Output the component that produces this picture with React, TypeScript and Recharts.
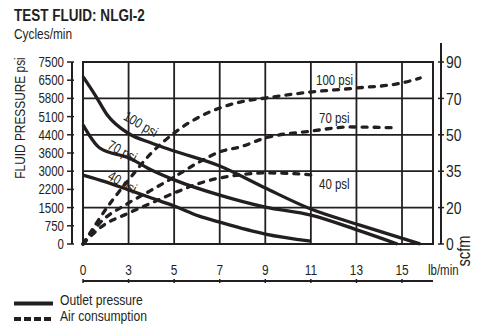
import React from 'react';
import {
    CartesianGrid,
    Line,
    LineChart,
    ReferenceArea,
    XAxis,
    YAxis,
} from 'recharts';

// axis tick labels (the axes are drawn evenly spaced, the values are not)
const LB_TICKS = [0, 3, 5, 7, 9, 11, 13, 15];
const CYCLE_TICKS = [0, 40, 80, 110, 150, 200, 230, 270];
const PSI_TICKS = [0, 750, 1500, 2200, 3000, 3600, 4400, 5100, 5800, 6500, 7500];
const SCFM_TICKS = [0, 20, 35, 50, 70, 90];

// outlet pressure, [lb/min, psi]
const outlet100 = [[0, 6700], [0.8, 5930], [1.6, 5160], [3, 4450], [4, 4040], [5, 3690], [7, 3170], [9, 2260], [11, 1440], [13.15, 780], [15.8, 0]];
const outlet70 = [[0, 4780], [1.1, 3820], [3, 3440], [4, 3040], [5, 2620], [7, 1980], [9, 1520], [11, 1190], [13.15, 540], [14.8, 0]];
const outlet40 = [[0, 2830], [1.5, 2530], [3, 2180], [4, 1870], [5, 1560], [6.1, 1150], [7, 900], [9, 410], [11, 120]];

// air consumption, [lb/min, scfm]
const air100 = [[0, 0], [1.8, 21.9], [3, 31.4], [4, 42.5], [5, 51], [6.1, 59.8], [7, 64.7], [7.9, 68], [9, 70.2], [11, 73.5], [13, 75.7], [15, 78.5], [15.8, 81.2]];
const air70 = [[0, 0], [1.1, 11.5], [3, 21.9], [4, 27.2], [5, 32.6], [6.1, 38.8], [7, 43], [7.9, 45], [9, 48.7], [11, 52], [12.7, 54.3], [14.8, 53.8]];
const air40 = [[0, 0], [1.1, 8.8], [3, 17], [4, 21.9], [5, 26], [6.1, 30], [7, 32.2], [7.9, 33.5], [9, 34.3], [11, 33.5], [11.1, 32.6]];

const INK = '#231f20';
const FONT = "'Liberation Sans', Arial, sans-serif";
const XMAX = 7.68;

// value -> position on an evenly spaced axis
const toIndex = (v: number, ticks: number[]) => {
    for (let i = 0; i < ticks.length - 1; i++) {
        if (v <= ticks[i + 1]) return i + (v - ticks[i]) / (ticks[i + 1] - ticks[i]);
    }
    const n = ticks.length - 1;
    return n + (v - ticks[n]) / (ticks[n] - ticks[n - 1]);
};

const toRows = (pts: number[][], yTicks: number[]) =>
    pts.map(([lb, v]) => ({x: toIndex(lb, LB_TICKS), y: toIndex(v, yTicks)}));

// condensed text (no narrow font installed, so squeeze a regular one)
const NText = ({x, y, size, anchor = 'start', weight, rotate = 0, dy, children}: any) => (
    <text
        transform={`translate(${x},${y}) rotate(${rotate}) scale(0.82,1)`}
        dy={dy}
        fontSize={size}
        fontWeight={weight}
        textAnchor={anchor}
        fontFamily={FONT}
        fill={INK}
    >
        {children}
    </text>
);

const LeftTick = ({x, y, payload}: any) => (
    <g>
        <line x1={x - 5} x2={x + 2} y1={y} y2={y} stroke={INK} strokeWidth={1.5} />
        <NText x={x - 8} y={y} dy='0.36em' anchor='end' size={14}>{PSI_TICKS[payload.value]}</NText>
    </g>
);

const RightTick = ({x, y, payload}: any) => (
    <g>
        {payload.value === 5 && <line x1={x} x2={x} y1={y - 19} y2={y} stroke={INK} strokeWidth={2} />}
        <line x1={x - 3} x2={x + 3} y1={y} y2={y} stroke={INK} strokeWidth={1.5} />
        <NText x={x + 5} y={y} dy='0.36em' size={17}>{SCFM_TICKS[payload.value]}</NText>
    </g>
);

const TopTick = ({x, y, payload}: any) => (
    <NText x={x} y={y - 5} anchor='middle' size={14.5}>{CYCLE_TICKS[payload.value]}</NText>
);

const BottomTick = ({x, y, payload}: any) => (
    <g>
        <line x1={x} x2={x} y1={y - 2} y2={y + 2} stroke={INK} strokeWidth={1.5} />
        <NText x={x} y={y - 6} anchor='middle' size={14.5}>{LB_TICKS[payload.value]}</NText>
    </g>
);

const idx = (n: number) => Array.from({length: n}, (_, i) => i);

const solid = {stroke: INK, strokeWidth: 3.3, dot: false, type: 'monotone' as const, isAnimationActive: false};
const dashed = {...solid, strokeDasharray: '5 7', strokeLinecap: 'round' as const};

const App: React.FC = () => {
    return (
        <div style={{position: 'absolute', left: 0, top: 0, width: 478, height: 326, background: '#fff'}}>
            <LineChart width={478} height={326} margin={{top: 42, right: 0, bottom: 0, left: 0}}>
                <XAxis xAxisId='cyc' orientation='top' type='number' dataKey='x' domain={[0, XMAX]} ticks={idx(8)} interval={0}
                    height={20} axisLine={false} tickLine={false} tickSize={0} tickMargin={0} tick={<TopTick />} />
                <XAxis xAxisId='gapB' orientation='bottom' type='number' dataKey='x' domain={[0, XMAX]} height={37}
                    axisLine={false} tickLine={false} tick={false} />
                <XAxis xAxisId='lb' orientation='bottom' type='number' dataKey='x' domain={[0, XMAX]} ticks={idx(8)} interval={0}
                    height={45} axisLine={{stroke: INK, strokeWidth: 2}} tickLine={false} tickSize={0} tickMargin={0} tick={<BottomTick />} />
                <YAxis yAxisId='gapL' orientation='left' type='number' domain={[0, 10]} width={11}
                    axisLine={false} tickLine={false} tick={false} />
                <YAxis yAxisId='psi' orientation='left' type='number' domain={[0, 10]} ticks={idx(11)} interval={0} width={72}
                    axisLine={{stroke: INK, strokeWidth: 2}} tickLine={false} tickSize={0} tickMargin={0} tick={<LeftTick />} />
                <YAxis yAxisId='gapR' orientation='right' type='number' domain={[0, 5]} width={8}
                    axisLine={false} tickLine={false} tick={false} />
                <YAxis yAxisId='scfm' orientation='right' type='number' domain={[0, 5]} ticks={idx(6)} interval={0} width={37}
                    axisLine={{stroke: INK, strokeWidth: 2}} tickLine={false} tickSize={0} tickMargin={0} tick={<RightTick />} />
                <CartesianGrid xAxisId='lb' yAxisId='scfm' stroke={INK} strokeWidth={1.8} />
                <ReferenceArea xAxisId='lb' yAxisId='scfm' x1={0} x2={XMAX} y1={0} y2={5} fill='none' fillOpacity={0}
                    stroke={INK} strokeWidth={2} ifOverflow='visible' />

                <Line {...solid} xAxisId='lb' yAxisId='psi' data={toRows(outlet100, PSI_TICKS)} dataKey='y' />
                <Line {...solid} xAxisId='lb' yAxisId='psi' data={toRows(outlet70, PSI_TICKS)} dataKey='y' />
                <Line {...solid} xAxisId='lb' yAxisId='psi' data={toRows(outlet40, PSI_TICKS)} dataKey='y' />
                <Line {...dashed} xAxisId='lb' yAxisId='scfm' data={toRows(air100, SCFM_TICKS)} dataKey='y' />
                <Line {...dashed} xAxisId='lb' yAxisId='scfm' data={toRows(air70, SCFM_TICKS)} dataKey='y' />
                <Line {...dashed} xAxisId='lb' yAxisId='scfm' data={toRows(air40, SCFM_TICKS)} dataKey='y' />
            </LineChart>

            <svg width={478} height={326} style={{position: 'absolute', left: 0, top: 0, pointerEvents: 'none'}}>
                <NText x={14} y={21} size={16.5} weight='bold'>TEST FLUID: NLGI-2</NText>
                <NText x={14} y={39} size={14.5}>Cycles/min</NText>
                <NText x={20} y={118} rotate={-90} dy='0.36em' anchor='middle' size={14.5}>FLUID PRESSURE psi</NText>
                <NText x={464} y={251} rotate={-90} dy='0.36em' anchor='middle' size={18}>scfm</NText>
                <NText x={428} y={275} size={14}>lb/min</NText>

                <NText x={141} y={124} rotate={30} dy='0.36em' anchor='middle' size={14}>100 psi</NText>
                <NText x={122.5} y={151} rotate={28} dy='0.36em' anchor='middle' size={14}>70 psi</NText>
                <NText x={122.5} y={182} rotate={30} dy='0.36em' anchor='middle' size={14}>40 psi</NText>
                <NText x={316} y={85} size={14}>100 psi</NText>
                <NText x={319} y={123} size={14}>70 psi</NText>
                <NText x={319} y={189} size={14}>40 psl</NText>

                <line x1={14} x2={53} y1={303.5} y2={303.5} stroke={INK} strokeWidth={4} />
                <NText x={60} y={305} size={14.8}>Outlet pressure</NText>
                <line x1={14} x2={53} y1={319} y2={319} stroke={INK} strokeWidth={4} strokeDasharray='7 3' />
                <NText x={60} y={321} size={14.8}>Air consumption</NText>
            </svg>
        </div>
    );
};

export default App;
